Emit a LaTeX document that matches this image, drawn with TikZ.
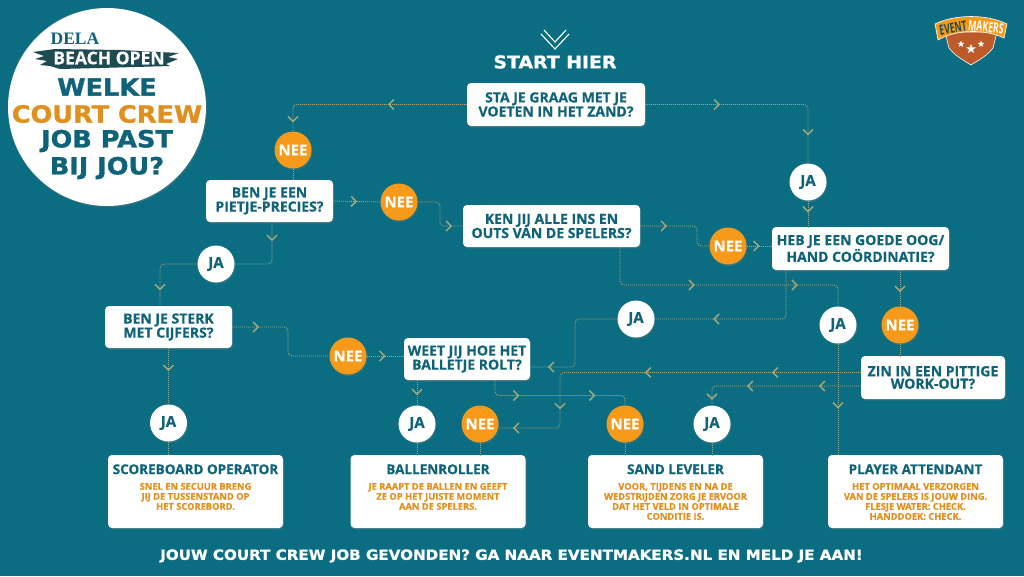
\documentclass[tikz,border=0pt]{standalone}
\usepackage{fontspec}
\setmainfont[BoldFeatures={FakeBold=.4}]{Open Sans}
\newfontfamily\headfont[BoldFeatures={FakeStretch=1.08,FakeBold=1.2}]{DejaVu Sans}
\newfontfamily\logofont[FakeStretch=0.62]{Open Sans}
\usetikzlibrary{arrows.meta,decorations.markings,shadows,shapes.geometric}
\definecolor{seabg}{HTML}{0A6D82}
\definecolor{tealtxt}{HTML}{0F6379}
\definecolor{orangeyes}{HTML}{F79A1A}
\definecolor{orangetxt}{HTML}{E0901E}
\definecolor{tanline}{HTML}{A9A87A}
\definecolor{brushdark}{HTML}{1E4A52}
\definecolor{shieldbrown}{HTML}{BC5A2A}
\begin{document}
\begin{tikzpicture}[x=1pt,y=-1pt,
  softshadow/.style={drop shadow={opacity=.3,shadow xshift=1pt,shadow yshift=-1.5pt}},
  question/.style={draw=none,fill=white,rounded corners=4pt,softshadow,align=center,inner sep=0pt,
    text=tealtxt,font=\bfseries\fontsize{14}{12.5}\selectfont},
  result/.style={draw=none,fill=white,rounded corners=4pt,softshadow,minimum width=175pt,minimum height=73pt},
  jobtitle/.style={text=tealtxt,inner sep=0pt,font=\bfseries\fontsize{13.5}{15}\selectfont},
  jobtext/.style={text=orangetxt,align=center,inner sep=0pt,anchor=north,font=\bfseries\fontsize{9.3}{10}\selectfont},
  ja/.style={circle,fill=white,softshadow,minimum size=37pt,inner sep=0pt,text=tealtxt,font=\bfseries\fontsize{15}{15}\selectfont},
  nee/.style={circle,fill=orangeyes,softshadow,minimum size=37pt,inner sep=0pt,text=white,font=\bfseries\fontsize{15}{15}\selectfont},
  headline/.style={inner sep=0pt,font=\headfont\bfseries\fontsize{#1}{#1}\selectfont},
  conn/.style={draw=tanline,line width=.8pt,dash pattern=on 1pt off 1pt,rounded corners=4pt},
  chev/.style={postaction={decoration={markings,mark=at position #1 with
    {\arrow[solid]{Straight Barb[length=5pt,width=10pt,line width=1.5pt]}}},decorate}}]
  \useasboundingbox (0,0) rectangle (1024,576);
  \fill[seabg] (0,0) rectangle (1024,576);

  \node[circle,fill=white,softshadow,minimum size=198pt,inner sep=0pt] (badge) at (107,107) {};
  \node[inner sep=0pt,text=tealtxt,font=\fontspec{Liberation Serif}\bfseries\fontsize{17.5}{18}\selectfont] (dela) at (75,39) {DELA};
  \fill[brushdark] (33,52) -- (55,49) -- (120,50) -- (179,53) -- (168,57) -- (178,59) -- (166,64) -- (170,66)
    -- (100,68) -- (60,69) -- (50,66) -- (40,65) -- (47,61) -- (35,59) -- (44,56) -- cycle;
  \node[inner sep=0pt,text=white,font=\bfseries\fontsize{17.5}{17}\selectfont] (beach) at (109,58) {BEACH OPEN};
  \node[headline=23.7,text=tealtxt] (welke) at (107,87) {WELKE};
  \node[headline=23.7,text=orangetxt] (court) at (107,114) {COURT CREW};
  \node[headline=23.7,text=tealtxt] (job) at (107,141) {JOB PAST};
  \node[headline=23.7,text=tealtxt] (bij) at (107,168) {BIJ JOU?};

  \draw[white,line width=1.1pt] (541,34) -- (555,49) -- (569,34);
  \draw[white,line width=1.1pt] (544,30) -- (555,42) -- (566,30);
  \node[headline=17.5,text=white] (start) at (555,62) {START HIER};

  \node[question,minimum width=178pt,minimum height=43pt] (q1) at (556,104.5) {STA JE GRAAG MET JE\\VOETEN IN HET ZAND?};
  \node[question,minimum width=127pt,minimum height=42pt] (q2) at (269.5,201) {BEN JE EEN\\PIETJE-PRECIES?};
  \node[question,minimum width=177pt,minimum height=42pt] (q3) at (551.5,226) {KEN JIJ ALLE INS EN\\OUTS VAN DE SPELERS?};
  \node[question,minimum width=177pt,minimum height=43pt] (q4) at (860.5,248.5) {HEB JE EEN GOEDE OOG/\\HAND COÖRDINATIE?};
  \node[question,minimum width=127pt,minimum height=42pt] (q5) at (168.5,327) {BEN JE STERK\\MET CIJFERS?};
  \node[question,minimum width=126pt,minimum height=42pt] (q6) at (467,359) {WEET JIJ HOE HET\\BALLETJE ROLT?};
  \node[question,minimum width=144pt,minimum height=43pt] (q7) at (933,377.5) {ZIN IN EEN PITTIGE\\WORK-OUT?};

  \node[nee] (nee1) at (293,150) {NEE};
  \node[nee] (nee2) at (399,202) {NEE};
  \node[nee] (nee3) at (728,246) {NEE};
  \node[nee] (nee4) at (348,356) {NEE};
  \node[nee] (nee5) at (900,325) {NEE};
  \node[nee] (nee6) at (480,424) {NEE};
  \node[nee] (nee7) at (625,424) {NEE};
  \node[ja] (ja1) at (808,182) {JA};
  \node[ja] (ja2) at (216,264) {JA};
  \node[ja] (ja3) at (636,319) {JA};
  \node[ja] (ja4) at (838,325) {JA};
  \node[ja] (ja5) at (168.5,423) {JA};
  \node[ja] (ja6) at (417,424) {JA};
  \node[ja] (ja7) at (712,424) {JA};

  \node[result] (r1) at (195.5,491.5) {};
  \node[result] (r2) at (438,491.5) {};
  \node[result] (r3) at (675.5,491.5) {};
  \node[result] (r4) at (915.5,491.5) {};
  \node[jobtitle] (t1) at ([yshift=-14.5pt]r1.north) {SCOREBOARD OPERATOR};
  \node[jobtitle] (t2) at ([yshift=-14.5pt]r2.north) {BALLENROLLER};
  \node[jobtitle] (t3) at ([yshift=-14.5pt]r3.north) {SAND LEVELER};
  \node[jobtitle] (t4) at ([yshift=-14.5pt]r4.north) {PLAYER ATTENDANT};
  \node[jobtext] (d1) at ([yshift=-28pt]r1.north) {SNEL EN SECUUR BRENG\\JIJ DE TUSSENSTAND OP\\HET SCOREBORD.};
  \node[jobtext] (d2) at ([yshift=-28pt]r2.north) {JE RAAPT DE BALLEN EN GEEFT\\ZE OP HET JUISTE MOMENT\\AAN DE SPELERS.};
  \node[jobtext] (d3) at ([yshift=-28pt]r3.north) {VOOR, TIJDENS EN NA DE\\WEDSTRIJDEN ZORG JE ERVOOR\\DAT HET VELD IN OPTIMALE\\CONDITIE IS.};
  \node[jobtext] (d4) at ([yshift=-28pt]r4.north) {HET OPTIMAAL VERZORGEN\\VAN DE SPELERS IS JOUW DING.\\FLESJE WATER: CHECK.\\HANDDOEK: CHECK.};

  \node[headline=14,text=white] (cta) at (511.5,556) {JOUW COURT CREW JOB GEVONDEN? GA NAAR EVENTMAKERS.NL EN MELD JE AAN!};

  \draw[conn,chev=79pt,chev=190pt] (q1.west) -| (nee1.north);
  \draw[conn,chev=75pt,chev=192pt] (q1.east) -| (ja1.north);
  \draw[conn] (nee1.south) -- (nee1.south |- q2.north);
  \draw[conn,chev=24pt] (q2.east) -- (nee2.west);
  \draw[conn,chev=55pt] (nee2.east) -| (440,226) -- (q3.west);
  \draw[conn,chev=27pt] (q3.east) -| (697,246) -- (nee3.west);
  \draw[conn,chev=13pt] (nee3.east) -- (nee3.east -| q4.west);
  \draw[conn,chev=12pt] (ja1.south) -- (ja1.south |- q4.north);
  \draw[conn,chev=111pt,chev=214pt] ([xshift=68.5pt]q3.south) -- (620,285) -| (ja4.north);
  \draw[conn,chev=65pt] (ja4.south) -- (ja4.south |- r4.north);
  \draw[conn,chev=120pt] ([xshift=-74.5pt]q4.south) |- (ja3.east);
  \draw[conn,chev=114pt] (ja3.west) -- (575,319) |- ([yshift=-8pt]q6.east);
  \draw[conn,chev=22pt] ([xshift=39.5pt]q4.south) -- (nee5.north);
  \draw[conn] (nee5.south) -- (nee5.south |- q7.north);
  \draw[conn,chev=89pt,chev=216pt,chev=336pt,chev=400pt] ([yshift=5pt]q7.west) -- (560,372.5) |- ([yshift=-4pt]nee6.east);
  \draw[conn,chev=42pt,chev=114pt,chev=161pt] ([yshift=-8.5pt]q7.west) -| (ja7.north);
  \draw[conn,chev=15pt] ([xshift=-50pt]q6.south) -- (ja6.north);
  \draw[conn,chev=38pt,chev=114pt] ([xshift=28pt]q6.south) |- (560,395.5) -| (nee7.north);
  \draw[conn,chev=19pt] ([xshift=2.5pt]q2.south) |- (ja2.east);
  \draw[conn,chev=62pt] (ja2.west) -| ([xshift=-8.5pt]q5.north);
  \draw[conn,chev=23pt] (q5.south) -- (ja5.north);
  \draw[conn,chev=27pt] (q5.east) -| (288,356) -- (nee4.west);
  \draw[conn,chev=19pt] (nee4.east) -- (nee4.east -| q6.west);
  \draw[conn] (ja5.south) -- (ja5.south |- r1.north);
  \draw[conn] (ja6.south) -- (ja6.south |- r2.north);
  \draw[conn] (nee6.south) -- (nee6.south |- r2.north);
  \draw[conn] (nee7.south) -- (nee7.south |- r3.north);
  \draw[conn] (ja7.south) -- (ja7.south |- r3.north);

  \fill[shieldbrown,draw=white,line width=.6pt] (945,32) -- (949,48) .. controls (955,55) .. (971,65) .. controls (987,55) .. (993,48) -- (997,32) -- cycle;
  \fill[orangeyes,draw=white,line width=.6pt] (935,24) .. controls (955,14) and (987,14) .. (1007,24)
    -- (1004,38) .. controls (985,29) and (957,29) .. (938,40) -- cycle;
  \node[inner sep=0pt,rotate=9,text=brushdark,font=\logofont\bfseries\fontsize{14}{14}\selectfont] (event) at (953,28) {EVENT};
  \node[inner sep=0pt,rotate=-6,text=white,font=\logofont\bfseries\fontsize{14}{14}\selectfont] (makers) at (986,27) {MAKERS};
  \foreach \sx/\sy/\ss in {961/44/7,971/49/10,981/44/7}
    \node[star,star points=5,star point ratio=2.4,fill=white,inner sep=0pt,minimum size=\ss pt] at (\sx,\sy) {};
\end{tikzpicture}
\end{document}
